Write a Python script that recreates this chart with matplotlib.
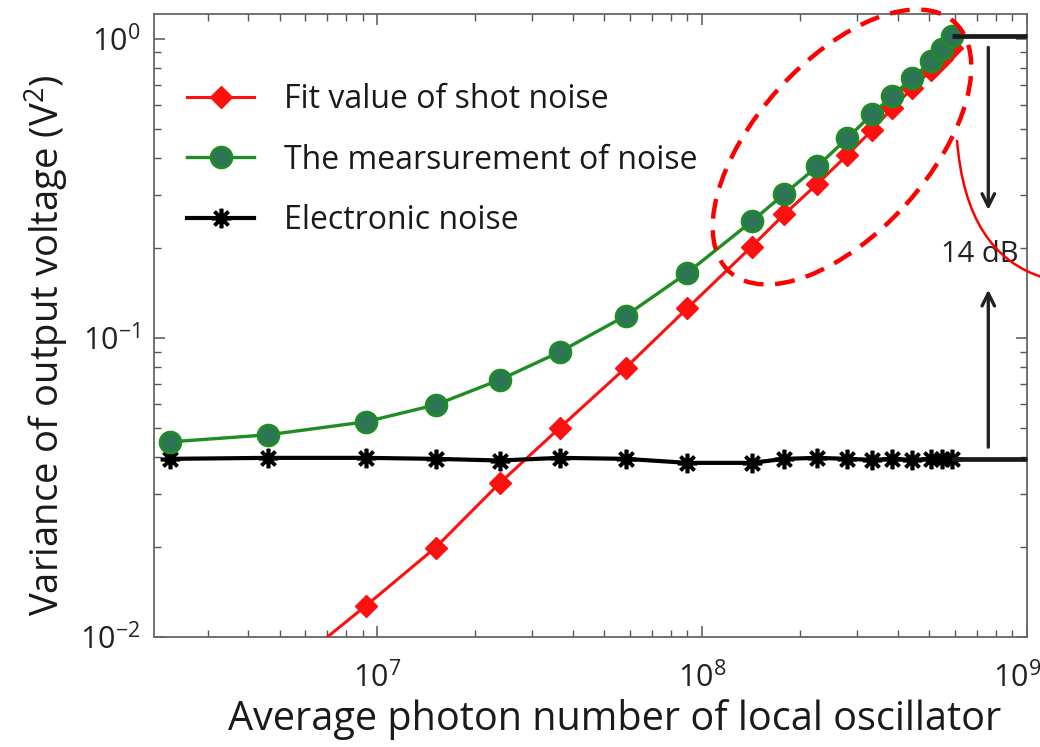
import math
import matplotlib
matplotlib.use("Agg")
import matplotlib.pyplot as plt
from matplotlib.patches import Ellipse, PathPatch
from matplotlib.path import Path
from matplotlib.ticker import LogLocator, FuncFormatter, NullFormatter

plt.rcParams['font.family'] = ['Open Sans', 'DejaVu Sans']
plt.rcParams['mathtext.default'] = 'regular'

# Average photon number of the local oscillator
photon_number = [2.3e6, 4.6e6, 9.2e6, 1.51e7, 2.38e7, 3.64e7, 5.81e7, 9.0e7,
                 1.42e8, 1.79e8, 2.26e8, 2.80e8, 3.34e8, 3.85e8, 4.44e8,
                 5.08e8, 5.49e8, 5.89e8]

# Variance of output voltage (V^2)
shot_noise_fit = [0.0037, 0.0069, 0.0127, 0.0199, 0.0327, 0.050, 0.0794, 0.1256,
                  0.202, 0.259, 0.327, 0.409, 0.496, 0.587, 0.684, 0.788,
                  0.855, 0.931]
measured_noise = [0.0449, 0.0474, 0.0524, 0.0597, 0.0724, 0.0897, 0.1185, 0.165,
                  0.245, 0.303, 0.374, 0.466, 0.560, 0.645, 0.739, 0.840,
                  0.924, 1.018]
electronic_noise = [0.0394, 0.0397, 0.0397, 0.0394, 0.0389, 0.0397, 0.0394, 0.0382,
                    0.0382, 0.0394, 0.0397, 0.0394, 0.0391, 0.0394, 0.0391,
                    0.0394, 0.0394, 0.0394]

series_labels = ["Fit value of shot noise", "The mearsurement of noise",
                 "Electronic noise"]
gain_text = "14 dB"

x_limits = (2.05e6, 1e9)
y_limits = (1e-2, 1.21)

fig = plt.figure(figsize=(10.4, 7.47), dpi=100)
ax = fig.add_axes([0.148, 0.1473, 0.8395, 0.834])

red = "#ff1010"
green_line = "#1f8c24"
green_face = "#2d7655"

ax.plot(photon_number, shot_noise_fit, color=red, lw=2.2, marker="D",
        ms=11, mfc=red, mec=red, label=series_labels[0], zorder=3)
ax.plot(photon_number, measured_noise, color=green_line, lw=2.4, marker="o",
        ms=15, mfc=green_face, mec=green_line, mew=2, label=series_labels[1],
        zorder=4)
ax.plot(photon_number, electronic_noise, color="black", lw=3, marker=(8, 2, 0),
        ms=14, mec="black", mew=2.6, label=series_labels[2], zorder=3)

ax.set_xscale("log")
ax.set_yscale("log")
ax.set_xlim(*x_limits)
ax.set_ylim(*y_limits)

# Reference levels spanning the 14 dB gap
ax.hlines(measured_noise[-1], photon_number[-1], x_limits[1], color="#1a1a1a",
          lw=3.4, zorder=5, clip_on=False)
ax.hlines(electronic_noise[-1], photon_number[-1], x_limits[1], color="#1a1a1a",
          lw=3.4, zorder=5, clip_on=False)
arrow_x = 7.6e8
ax.annotate("", xy=(arrow_x, 0.262), xytext=(arrow_x, 0.955),
            arrowprops=dict(arrowstyle="->,head_length=0.9,head_width=0.45",
                            color="#222222", lw=2.4))
ax.annotate("", xy=(arrow_x, 0.148), xytext=(arrow_x, 0.0422),
            arrowprops=dict(arrowstyle="->,head_length=0.9,head_width=0.45",
                            color="#222222", lw=2.4))
ax.text(7.15e8, 0.19, gain_text, ha="center", va="center", fontsize=21,
        color="#222222", zorder=6)


def decade_label(v, pos):
    return r"$10^{%d}$" % int(round(math.log10(v)))


def x_decade_label(v, pos):
    # the last decade sits on the right frame edge; it is drawn separately
    if v >= x_limits[1] * 0.999:
        return ""
    return decade_label(v, pos)


ax.xaxis.set_major_locator(LogLocator(base=10))
ax.xaxis.set_minor_locator(LogLocator(base=10, subs=range(2, 10)))
ax.yaxis.set_major_locator(LogLocator(base=10))
ax.yaxis.set_minor_locator(LogLocator(base=10, subs=range(2, 10)))
ax.xaxis.set_major_formatter(FuncFormatter(x_decade_label))
ax.yaxis.set_major_formatter(FuncFormatter(decade_label))
ax.xaxis.set_minor_formatter(NullFormatter())
ax.yaxis.set_minor_formatter(NullFormatter())
ax.tick_params(which="both", direction="in", top=True, right=True,
               color="#555555")
ax.tick_params(which="major", length=8, width=1.1, labelsize=22, pad=10,
               labelcolor="#222222")
ax.tick_params(axis="x", which="major", pad=18)
ax.tick_params(which="minor", length=5, width=1.0)
for s in ax.spines.values():
    s.set_color("#666666")
    s.set_linewidth(1.3)

ax.annotate(r"$10^{9}$", xy=(x_limits[1], 0), xycoords=("data", "axes fraction"),
            xytext=(-7, -18), textcoords="offset points", ha="center",
            va="top", fontsize=22, color="#222222", annotation_clip=False)

ax.set_xlabel("Average photon number of local oscillator", fontsize=28.5,
              color="#1a1a1a", labelpad=3)
ax.set_ylabel("Variance of output voltage (V$^2$)", fontsize=27.5,
              color="#1a1a1a", labelpad=6)
ax.xaxis.label.set_x(0.528)
ax.yaxis.label.set_y(0.469)

leg = ax.legend(loc="upper left", bbox_to_anchor=(0.038, 0.889), frameon=False,
                fontsize=23, handlelength=2.1, handletextpad=0.94,
                labelspacing=0.86, borderaxespad=0.0, borderpad=0.0)
for t in leg.get_texts():
    t.set_color("#1a1a1a")

# Highlight of the high-power region, drawn in figure inches
H = 7.47
ell = Ellipse((8.42, H - 1.47), 3.36, 1.72, angle=48, fill=False,
              edgecolor="#ff0000", lw=3.2, linestyle=(0, (4.5, 2.6)),
              transform=fig.dpi_scale_trans, clip_on=False, zorder=10)
fig.add_artist(ell)
curve = Path([(9.57, H - 1.40), (9.66, H - 2.55), (10.45, H - 2.78)],
             [Path.MOVETO, Path.CURVE3, Path.CURVE3])
fig.add_artist(PathPatch(curve, fill=False, edgecolor="#ff0000", lw=1.8,
                         transform=fig.dpi_scale_trans, clip_on=False,
                         zorder=10))

fig.savefig("out.png", dpi=100, facecolor="white")
